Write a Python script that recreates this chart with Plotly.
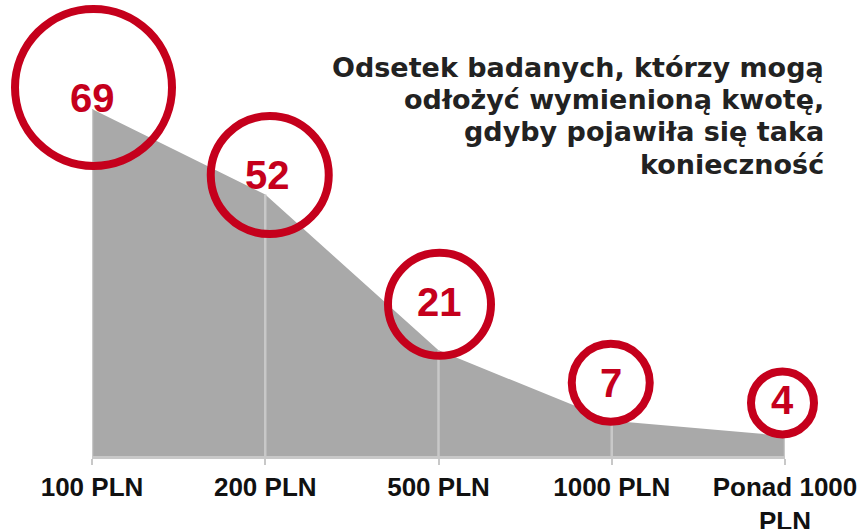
import plotly.graph_objects as go

# ---- data ----
categories = ["100 PLN", "200 PLN", "500 PLN", "1000 PLN", "Ponad 1000<br>PLN"]
values = [69, 52, 21, 7, 4]
title_lines = ["Odsetek badanych, którzy mogą", "odłożyć wymienioną kwotę,",
               "gdyby pojawiła się taka", "konieczność"]

# ---- styling (page pixels; body margin removed below) ----
W, H = 861, 529
PLOT_LEFT, PLOT_RIGHT, PLOT_TOP, PLOT_BOTTOM = 92, 785, 10, 456
ML = PLOT_LEFT
MR = W - PLOT_RIGHT
MT = PLOT_TOP
MB = H - PLOT_BOTTOM
Y_MAX = 88.67
RED = "#C5001C"
GRID = "#C8C8C8"
AREA = "#A9A9A9"

plot_h = H - MT - MB
plot_w = W - ML - MR
px_per_unit = plot_h / Y_MAX
px_per_cat = plot_w / (len(categories) - 1)

circle_size = [157, 118, 103, 78, 63]
circle_dx_px = [1.5, 4.5, 1, -1, -2.5]
circle_dy_px = [21.5, 19.4, 46, 38, 33]
label_dx_px = [0, 2.5, 1, -1, -3]
label_dy_px = [11, 19.4, 48, 38, 36]

title_right_px = 826
title_line_mid_px = [67, 99, 131, 164]

xs = list(range(len(categories)))

fig = go.Figure()

# gray area
fig.add_trace(go.Scatter(
    x=xs, y=values, mode="lines", fill="tozeroy",
    fillcolor=AREA, line=dict(width=0, color=AREA),
    hoverinfo="skip", showlegend=False))

# drop lines
dx, dy = [], []
for x, v in zip(xs, values):
    dx += [x, x, None]
    dy += [0, v, None]
fig.add_trace(go.Scatter(
    x=dx, y=dy, mode="lines", line=dict(color=GRID, width=2.5),
    hoverinfo="skip", showlegend=False))

# circles
fig.add_trace(go.Scatter(
    x=[x + d / px_per_cat for x, d in zip(xs, circle_dx_px)],
    y=[v + d / px_per_unit for v, d in zip(values, circle_dy_px)],
    mode="markers",
    marker=dict(symbol="circle", size=circle_size, color="rgba(0,0,0,0)",
                opacity=1, line=dict(color=RED, width=8)),
    cliponaxis=False, hoverinfo="skip", showlegend=False))

# value labels
for x, v, ddx, ddy in zip(xs, values, label_dx_px, label_dy_px):
    fig.add_annotation(
        x=x, y=v, xref="x", yref="y", text=str(v), showarrow=False,
        xshift=ddx, yshift=ddy,
        font=dict(family="Liberation Sans, Arial", size=40, color=RED, weight="bold"),
        xanchor="center", yanchor="middle")

# title (one annotation per line for tighter spacing)
for line, py in zip(title_lines, title_line_mid_px):
    fig.add_annotation(
        x=(title_right_px - PLOT_LEFT) / plot_w, y=(PLOT_BOTTOM - py) / plot_h,
        xref="paper", yref="paper", text=line, showarrow=False,
        xanchor="right", yanchor="middle", align="right",
        font=dict(family="DejaVu Sans, Verdana", size=27, color="#222222", weight="bold"))

fig.update_layout(
    width=W, height=H,
    margin=dict(l=ML, r=MR, t=MT, b=MB, autoexpand=False),
    paper_bgcolor="white", plot_bgcolor="white",
    hovermode=False,
    xaxis=dict(range=[0, len(categories) - 1], tickvals=xs, ticktext=categories,
               automargin=False, fixedrange=True,
               showgrid=False, zeroline=False, showline=True, linecolor=GRID,
               linewidth=3, ticks="outside", tickcolor=GRID, ticklen=6, tickwidth=2,
               tickfont=dict(family="Liberation Sans, Arial", size=26, color="#111111",
                             weight="bold")),
    yaxis=dict(range=[0, Y_MAX], visible=False, automargin=False, fixedrange=True),
)

fig.write_html(
    "out.html",
    config={"displayModeBar": False},
    post_script="document.body.style.margin='0';document.body.style.overflow='hidden';",
)
